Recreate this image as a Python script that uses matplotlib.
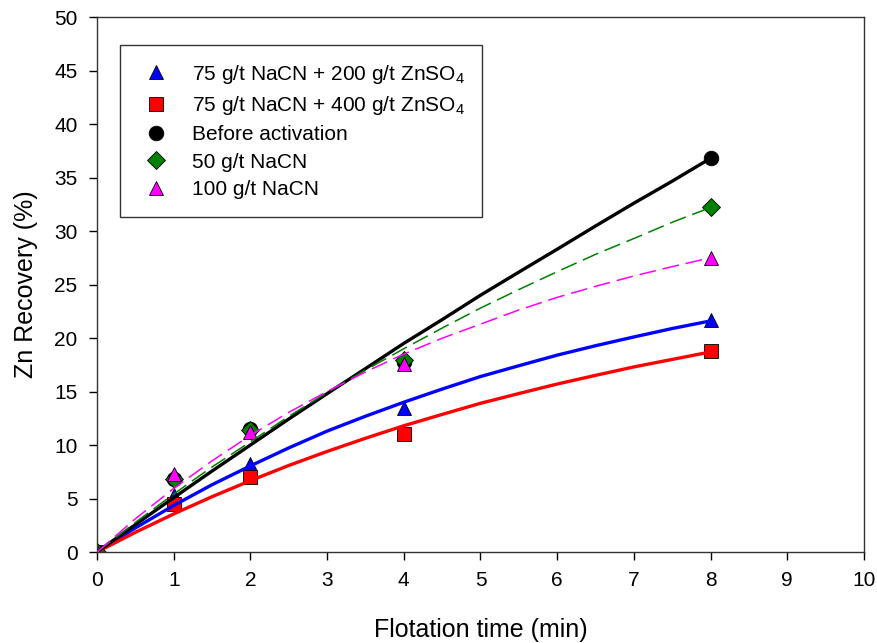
import matplotlib
matplotlib.use("Agg")
import matplotlib.pyplot as plt

plt.rcParams["font.family"] = ["Liberation Sans", "DejaVu Sans"]
plt.rcParams["mathtext.fontset"] = "custom"
plt.rcParams["mathtext.rm"] = "Liberation Sans"
plt.rcParams["mathtext.default"] = "regular"

# measured points
t = [0, 1, 2, 4, 8]
zn200 = [0, 5.3, 8.2, 13.5, 21.7]
zn400 = [0, 4.5, 7.0, 11.0, 18.8]
before = [0, 6.8, 11.5, 17.8, 36.8]
nacn50 = [0, 6.8, 11.4, 17.9, 32.2]
nacn100 = [0, 7.3, 11.2, 17.6, 27.5]

# fitted curves
t_fit = [0, 0.5, 1, 1.5, 2, 2.5, 3, 3.5, 4, 4.5, 5, 5.5, 6, 6.5, 7, 7.5, 8]
fit_zn200 = [0, 2.25, 4.35, 6.29, 8.05, 9.73, 11.3, 12.69, 14.0, 15.23,
             16.4, 17.41, 18.4, 19.28, 20.1, 20.89, 21.6]
fit_zn400 = [0, 1.84, 3.56, 5.17, 6.67, 8.09, 9.4, 10.63, 11.8, 12.86,
             13.9, 14.81, 15.7, 16.51, 17.3, 18.0, 18.7]
fit_before = [0, 2.56, 5.08, 7.57, 10.0, 12.43, 14.8, 17.14, 19.5, 21.72,
              24.0, 26.16, 28.3, 30.47, 32.6, 34.66, 36.8]
fit_nacn50 = [0, 2.77, 5.42, 7.95, 10.3, 12.68, 14.9, 17.0, 19.0, 20.93,
              22.8, 24.53, 26.2, 27.82, 29.3, 30.82, 32.2]
fit_nacn100 = [0, 3.10, 5.94, 8.52, 10.9, 13.05, 15.0, 16.83, 18.5, 19.98,
               21.3, 22.62, 23.8, 24.83, 25.8, 26.67, 27.5]

fig = plt.figure(figsize=(8.78, 6.43), dpi=100)
ax = fig.add_axes([0.1105, 0.1415, 0.8735, 0.832])

ax.plot(t_fit, fit_zn200, color="blue", lw=2.4, zorder=3)
ax.plot(t_fit, fit_zn400, color="red", lw=2.4, zorder=3)
ax.plot(t_fit, fit_before, color="black", lw=2.4, zorder=3)
ax.plot(t_fit, fit_nacn50, color="green", lw=1.1, dashes=(11, 4.5), zorder=3)
ax.plot(t_fit, fit_nacn100, color="magenta", lw=1.1, dashes=(11, 4.5), zorder=3)

mk = dict(linestyle="none", markeredgecolor="black", markeredgewidth=0.6, zorder=2)
ax.plot(t, zn200, marker="^", ms=10.5, color="blue",
        label="75 g/t NaCN + 200 g/t ZnSO$_4$", **mk)
ax.plot(t, zn400, marker="s", ms=9.5, color="red",
        label="75 g/t NaCN + 400 g/t ZnSO$_4$", **mk)
ax.plot(t, before, marker="o", ms=10.5, color="black",
        label="Before activation", **mk)
ax.plot(t, nacn50, marker="D", ms=9, color="green",
        label="50 g/t NaCN", **mk)
ax.plot(t, nacn100, marker="^", ms=10.5, color="magenta",
        label="100 g/t NaCN", **mk)

ax.set_xlim(0, 10)
ax.set_ylim(0, 50)
ax.set_xticks(range(0, 11))
ax.set_yticks(range(0, 51, 5))
ax.tick_params(direction="out", length=6, width=1, labelsize=15, pad=8)
for s in ax.spines.values():
    s.set_linewidth(1.0)
    s.set_color("#333333")

ax.set_xlabel("Flotation time (min)", fontsize=18, labelpad=20)
ax.set_ylabel("Zn Recovery (%)", fontsize=18, labelpad=12)

leg = ax.legend(loc="upper left", bbox_to_anchor=(0.030, 0.948),
                borderaxespad=0, fontsize=15, frameon=True, fancybox=False,
                handletextpad=0.8, borderpad=0.85, labelspacing=0.4,
                handlelength=1.8)
leg.get_frame().set_edgecolor("black")
leg.get_frame().set_linewidth(1.0)

fig.savefig("out.png", dpi=100)
